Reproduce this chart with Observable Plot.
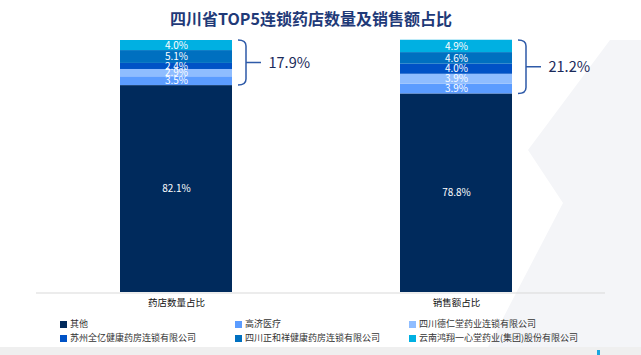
<!DOCTYPE html>
<html>
<head>
<meta charset="utf-8">
<script src="https://cdn.jsdelivr.net/npm/d3@7"></script>
<script src="https://cdn.jsdelivr.net/npm/@observablehq/plot@0.6"></script>
<style>
  body { margin: 0; background: #fff; font-family: "Noto Sans CJK SC", "Microsoft YaHei", sans-serif; }
  #wrap { position: relative; width: 641px; height: 355px; overflow: hidden; background: #fff; }
  #bg { position: absolute; left: 0; top: 0; }
  #title { position: absolute; left: 0; top: 5px; width: 622px; text-align: center; font-size: 16px; font-weight: bold; color: #1f3a78; line-height: 26px; }
  #chart { position: absolute; left: 0; top: 36px; }
  .li { position: absolute; font-size: 9px; color: #333; white-space: nowrap; line-height: 14px; }
  .sw { display: inline-block; width: 7px; height: 7px; margin-right: 3px; vertical-align: -0.5px; }
  #footer { position: absolute; left: 0; top: 347px; width: 641px; height: 8px; background: #efefef; }
  #mark { position: absolute; left: 597px; top: 350px; width: 3px; height: 5px; background: #1aa7e0; }
</style>
</head>
<body>
<div id="wrap">
  <svg id="bg" width="641" height="355"><polygon points="528,150 563,203 488,347 641,347 641,40 610,40" fill="#f4f5f8"/></svg>
  <div id="title">四川省TOP5连锁药店数量及销售额占比</div>
  <div id="chart"></div>
  <div id="legend"></div>
  <div id="footer"></div>
  <div id="mark"></div>
</div>
<script>
const categories = ["药店数量占比", "销售额占比"];
const series = ["其他", "高济医疗", "四川德仁堂药业连锁有限公司", "苏州全亿健康药房连锁有限公司", "四川正和祥健康药房连锁有限公司", "云南鸿翔一心堂药业(集团)股份有限公司"];
const storeShare = [82.1, 3.5, 2.9, 2.4, 5.1, 4.0];
const salesShare = [78.8, 3.9, 3.9, 4.0, 4.6, 4.9];
const top5Totals = [17.9, 21.2];
const colors = ["#002a5c", "#5b9cff", "#8fbdff", "#0052c6", "#0070c0", "#00b0e2"];
const legendOrder = [0, 1, 2, 3, 4, 5];

const shares = [storeShare, salesShare];
const rows = [];
categories.forEach((c, i) => series.forEach((s, j) => rows.push({cat: c, series: s, value: shares[i][j]})));
const totals = categories.map((c, i) => ({cat: c, total: top5Totals[i], mid: 100 - top5Totals[i] / 2}));

function braces(index, scales) {
  const sx = scales.x, sy = scales.y;
  const bw = typeof sx.bandwidth === "function" ? sx.bandwidth() : sx.bandwidth;
  const g = d3.create("svg:g").attr("fill", "none").attr("stroke", "#2e5aa8").attr("stroke-width", 1.5);
  totals.forEach(t => {
    const r = sx(t.cat) + bw;
    const x0 = r + 6, x1 = r + 14, x2 = r + 29;
    const yt = sy(100), yb = sy(100 - t.total), ym = (yt + yb) / 2;
    g.append("path").attr("d",
      `M${x0},${yt} Q${x1},${yt} ${x1},${yt + 6} L${x1},${yb - 6} Q${x1},${yb} ${x0},${yb} M${x1},${ym} L${x2},${ym}`);
  });
  return g.node();
}

const chart = Plot.plot({
  width: 641,
  height: 276,
  marginTop: 4,
  marginBottom: 20,
  marginLeft: 36,
  marginRight: 36,
  style: {fontFamily: '"Noto Sans CJK SC", sans-serif', fontSize: "9.5px", color: "#111", background: "transparent"},
  x: {domain: categories, paddingInner: 0.6, paddingOuter: 0.316, align: 0.475, label: null, tickSize: 0, tickPadding: 7},
  y: {domain: [0, 100], axis: null},
  color: {domain: series, range: colors},
  marks: [
    Plot.barY(rows, {x: "cat", y: "value", fill: "series", order: series}),
    Plot.text(rows, Plot.stackY({x: "cat", y: "value", z: "series", order: series,
      text: d => d.value.toFixed(1) + "%", fill: "white", fontSize: 10})),
    Plot.ruleY([0], {stroke: "#d9d9d9", dy: 0.5}),
    braces,
    Plot.text(totals, {x: "cat", y: "mid", text: d => d.total.toFixed(1) + "%", dx: 92, textAnchor: "start",
      fontSize: 14.5, fill: "#1a2a5a"})
  ]
});
document.getElementById("chart").appendChild(chart);

const legend = document.getElementById("legend");
const colX = [60, 235, 409];
const rowY = [317, 331];
legendOrder.forEach((k, i) => {
  const el = document.createElement("div");
  el.className = "li";
  el.style.left = colX[i % 3] + "px";
  el.style.top = rowY[Math.floor(i / 3)] + "px";
  el.innerHTML = `<span class="sw" style="background:${colors[k]}"></span>${series[k]}`;
  legend.appendChild(el);
});
</script>
</body>
</html>
